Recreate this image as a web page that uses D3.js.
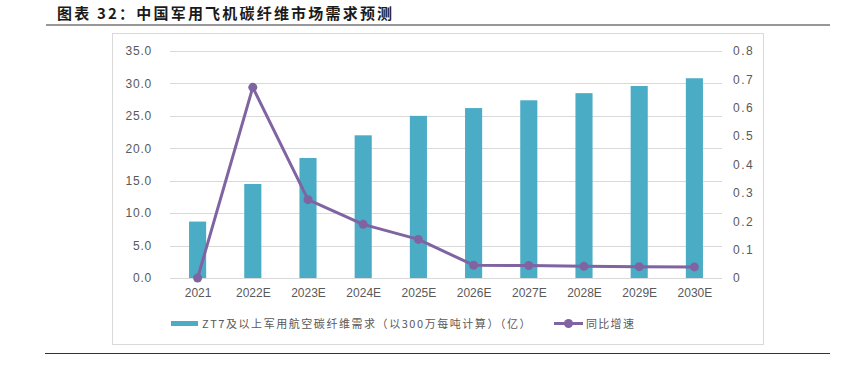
<!DOCTYPE html>
<html>
<head>
<meta charset="utf-8">
<script src="https://cdn.jsdelivr.net/npm/d3@7"></script>
<style>
body { margin:0; background:#fff; }
text { font-family: "Liberation Sans", "Noto Sans CJK SC", sans-serif; }
</style>
</head>
<body>
<svg id="graph1"></svg>
<script>
var years = ["2021","2022E","2023E","2024E","2025E","2026E","2027E","2028E","2029E","2030E"]
var demand = [8.7, 14.5, 18.5, 22.0, 25.0, 26.2, 27.4, 28.5, 29.6, 30.8]
var growth = [0, 0.672, 0.276, 0.189, 0.136, 0.045, 0.044, 0.041, 0.040, 0.039]
var leftTicks = [0, 5, 10, 15, 20, 25, 30, 35]
var rightTicks = [0, 0.1, 0.2, 0.3, 0.4, 0.5, 0.6, 0.7, 0.8]
var barName = "ZT7及以上军用航空碳纤维需求（以300万每吨计算）（亿）"
var lineName = "同比增速"
var title = "图表 32：中国军用飞机碳纤维市场需求预测"

var screen = {width:842, height:377}
var plot = {left:170, right:722, top:51, bottom:278}
var barColor = "#4BACC6", lineColor = "#8064A2", grey = "#595959"

var svg = d3.select("#graph1")
    .attr("width", screen.width)
    .attr("height", screen.height)

// title and rules
svg.append("text")
    .attr("x", 57).attr("y", 19)
    .style("font-family", "'Noto Sans CJK SC'")
    .style("font-weight", "bold")
    .style("font-size", "15px")
    .style("letter-spacing", "2.2px")
    .attr("fill", "#1a1a1a")
    .text(title)
svg.append("line").attr("x1", 46).attr("x2", 830).attr("y1", 25).attr("y2", 25)
    .attr("stroke", "#333").attr("stroke-width", 1.2)
svg.append("line").attr("x1", 45).attr("x2", 830).attr("y1", 353.5).attr("y2", 353.5)
    .attr("stroke", "#333").attr("stroke-width", 1.2)
svg.append("rect").attr("x", 112.5).attr("y", 33.5).attr("width", 651).attr("height", 311)
    .attr("fill", "none").attr("stroke", "#d9d9d9")

var xScale = d3.scaleBand().domain(years).range([plot.left, plot.right]).paddingInner(0.69).paddingOuter(0.345)
var xPoint = d3.scalePoint().domain(years).range([plot.left, plot.right]).padding(0.5)
var yScale = d3.scaleLinear().domain([0, 35]).range([plot.bottom, plot.top])
var y2Scale = d3.scaleLinear().domain([0, 0.8]).range([plot.bottom, plot.top])

// grid
svg.append("g").selectAll("line")
    .data(leftTicks)
    .enter().append("line")
    .attr("x1", plot.left).attr("x2", plot.right)
    .attr("y1", function(d){ return Math.round(yScale(d)) + 0.5 })
    .attr("y2", function(d){ return Math.round(yScale(d)) + 0.5 })
    .attr("stroke", "#d9d9d9").attr("stroke-width", 1)

// axes
var yAxis = d3.axisLeft(yScale).tickValues(leftTicks).tickSize(0).tickPadding(0)
    .tickFormat(function(d){ return d.toFixed(1) })
var y2Axis = d3.axisRight(y2Scale).tickValues(rightTicks).tickSize(0).tickPadding(0)
    .tickFormat(function(d){ return d === 0 ? "0" : d.toFixed(1) })
var xAxis = d3.axisBottom(xPoint).tickSize(0).tickPadding(0)

var gy = svg.append("g").attr("transform", "translate(152,0)").call(yAxis)
var gy2 = svg.append("g").attr("transform", "translate(733,0)").call(y2Axis)
var gx = svg.append("g").attr("transform", "translate(0,288)").call(xAxis)
svg.selectAll(".domain").remove()
svg.selectAll(".tick text")
    .attr("fill", grey)
    .style("font-size", "12px")
    .style("font-family", "'Liberation Sans'")
gx.selectAll(".tick text").attr("dy", "0.71em")
gy.selectAll(".tick text").style("letter-spacing", "0.8px")
gy2.selectAll(".tick text").style("letter-spacing", "1.5px")

// bars
svg.append("g").selectAll("rect")
    .data(demand)
    .enter().append("rect")
    .attr("x", function(d, i){ return xScale(years[i]) })
    .attr("width", xScale.bandwidth())
    .attr("y", function(d){ return yScale(d) })
    .attr("height", function(d){ return yScale(0) - yScale(d) })
    .attr("fill", barColor)

// line
var line = d3.line()
    .x(function(d, i){ return xPoint(years[i]) })
    .y(function(d){ return y2Scale(d) })
svg.append("path")
    .datum(growth)
    .attr("d", line)
    .attr("fill", "none")
    .attr("stroke", lineColor)
    .attr("stroke-width", 3)
    .attr("stroke-linejoin", "round")
svg.append("g").selectAll("circle")
    .data(growth)
    .enter().append("circle")
    .attr("cx", function(d, i){ return xPoint(years[i]) })
    .attr("cy", function(d){ return y2Scale(d) })
    .attr("r", 4.5)
    .attr("fill", lineColor)

// legend
var legend = svg.append("g")
legend.append("rect").attr("x", 171).attr("y", 321).attr("width", 27).attr("height", 5).attr("fill", barColor)
legend.append("text").attr("x", 202).attr("y", 328)
    .style("font-family", "'Noto Sans CJK SC'").style("font-size", "11px")
    .style("letter-spacing", "1.55px")
    .attr("fill", grey).text(barName)
legend.append("line").attr("x1", 554).attr("x2", 583).attr("y1", 323.5).attr("y2", 323.5)
    .attr("stroke", lineColor).attr("stroke-width", 3)
legend.append("circle").attr("cx", 568.5).attr("cy", 323.5).attr("r", 4.5).attr("fill", lineColor)
legend.append("text").attr("x", 586).attr("y", 328)
    .style("font-family", "'Noto Sans CJK SC'").style("font-size", "11px")
    .style("letter-spacing", "1.3px")
    .attr("fill", grey).text(lineName)
</script>
</body>
</html>
